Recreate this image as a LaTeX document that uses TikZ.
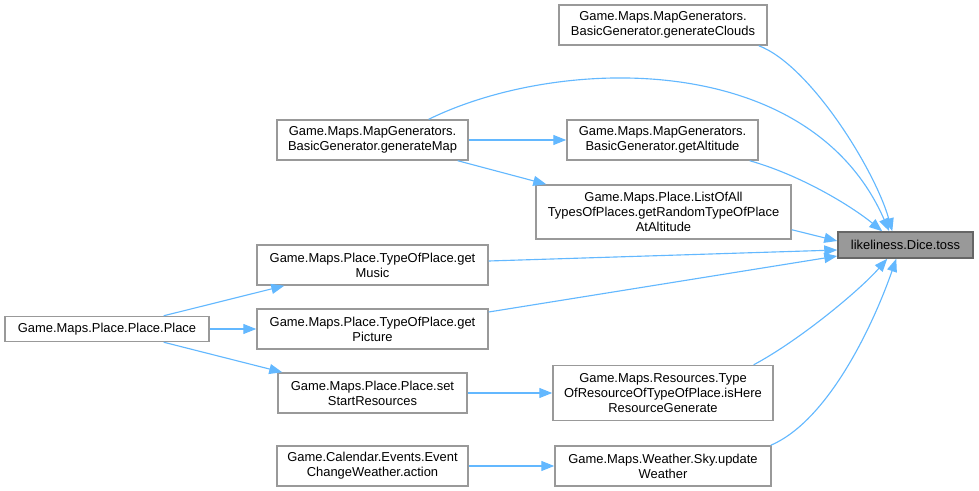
\documentclass[tikz,border=0pt]{standalone}
\usepackage{fontspec}
\setmainfont{Liberation Sans}
\usetikzlibrary{arrows.meta}
\newlength\pxu
\setlength\pxu{0.75pt}
\definecolor{edgeblue}{HTML}{63B8FF}
\definecolor{boxgray}{HTML}{999999}
\definecolor{darkgray}{HTML}{666666}
\tikzset{
  fnbox/.style={draw=boxgray, line width=1.1pt, fill=white, inner sep=0pt, align=center,
    font=\fontsize{9.7}{11.25}\selectfont, text=black},
  rootbox/.style={fnbox, draw=darkgray, fill=boxgray},
  callarrow/.style={draw=edgeblue, line width=0.85pt,
    -{Triangle[length=9.75pt,width=7.5pt,fill=edgeblue]}}
}
\begin{document}
\begin{tikzpicture}[x=0.75pt,y=-0.75pt]
\useasboundingbox (0,0) rectangle (979,491);
\node[rootbox, minimum width=135\pxu, minimum height=26\pxu] (toss) at (905.5,245) {likeliness.Dice.toss};
\node[fnbox, minimum width=208\pxu, minimum height=40\pxu] (gc) at (663,25) {Game.Maps.MapGenerators.\\BasicGenerator.generateClouds};
\node[fnbox, minimum width=191\pxu, minimum height=40\pxu] (gm) at (372.5,140) {Game.Maps.MapGenerators.\\BasicGenerator.generateMap};
\node[fnbox, minimum width=191\pxu, minimum height=40\pxu] (ga) at (662.5,140) {Game.Maps.MapGenerators.\\BasicGenerator.getAltitude};
\node[fnbox, minimum width=255\pxu, minimum height=54\pxu] (lo) at (663.5,212) {Game.Maps.Place.ListOfAll\\TypesOfPlaces.getRandomTypeOfPlace\\AtAltitude};
\node[fnbox, minimum width=231\pxu, minimum height=40\pxu] (gmu) at (372.5,265) {Game.Maps.Place.TypeOfPlace.get\\Music};
\node[fnbox, minimum width=231\pxu, minimum height=40\pxu] (gp) at (372.5,329) {Game.Maps.Place.TypeOfPlace.get\\Picture};
\node[fnbox, minimum width=204\pxu, minimum height=25\pxu] (pl) at (107,329) {Game.Maps.Place.Place.Place};
\node[fnbox, minimum width=189\pxu, minimum height=40\pxu] (ssr) at (372.5,393) {Game.Maps.Place.Place.set\\StartResources};
\node[fnbox, minimum width=220\pxu, minimum height=55\pxu] (ih) at (663,393) {Game.Maps.Resources.Type\\OfResourceOfTypeOfPlace.isHere\\ResourceGenerate};
\node[fnbox, minimum width=216\pxu, minimum height=40\pxu] (uw) at (663,466) {Game.Maps.Weather.Sky.update\\Weather};
\node[fnbox, minimum width=191\pxu, minimum height=40\pxu] (ac) at (372.5,466) {Game.Calendar.Events.Event\\ChangeWeather.action};

\draw[callarrow] ([xshift=-6.75pt]gc.south east) .. controls (810,65) and (875,170) .. ([xshift=41.25pt]toss.north west);
\draw[callarrow] ([xshift=-30pt]gm.north east) .. controls (560,55) and (810,50) .. ([xshift=39pt]toss.north west);
\draw[callarrow] (gm.east) -- (ga.west);
\draw[callarrow] ([xshift=-8.25pt]gm.south east) -- ([xshift=8.25pt]lo.north west);
\draw[callarrow] ([xshift=-6.75pt]ga.south east) .. controls (800,175) and (850,205) .. ([xshift=33.75pt]toss.north west);
\draw[callarrow] ([yshift=7.5pt]lo.south east) -- ([yshift=3pt]toss.west);
\draw[callarrow] ([yshift=3pt]gmu.east) -- ([yshift=-3.75pt]toss.west);
\draw[callarrow] ([yshift=12.75pt]gp.east) -- ([yshift=-8.25pt]toss.west);
\draw[callarrow] ([xshift=-34.5pt]pl.north east) -- ([xshift=21pt]gmu.south west);
\draw[callarrow] (pl.east) -- (gp.west);
\draw[callarrow] ([xshift=-34.5pt]pl.south east) -- ([xshift=3.75pt]ssr.north west);
\draw[callarrow] (ssr.east) -- (ih.west);
\draw[callarrow] ([xshift=-15pt]ih.north east) .. controls (800,340) and (860,290) .. ([xshift=37.5pt]toss.south west);
\draw[callarrow] ([xshift=-0.75pt]uw.north east) .. controls (830,420) and (875,320) .. ([xshift=44.25pt]toss.south west);
\draw[callarrow] (ac.east) -- (uw.west);
\end{tikzpicture}
\end{document}
